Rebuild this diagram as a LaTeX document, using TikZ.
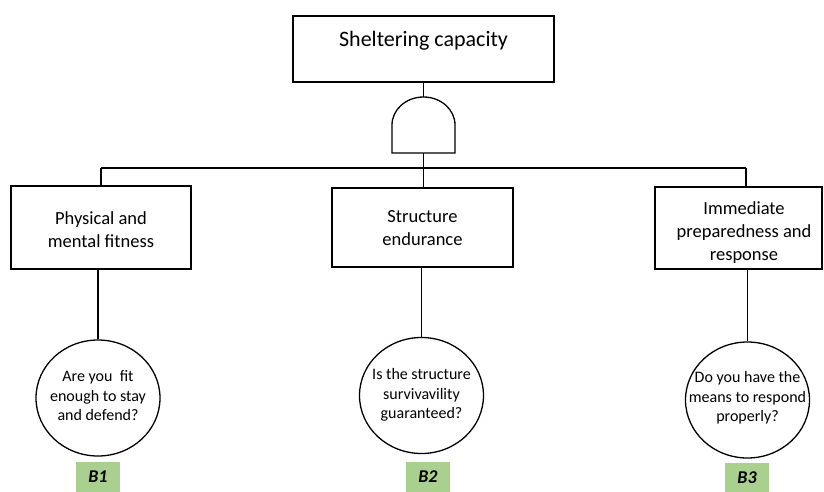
\documentclass[tikz,border=0pt]{standalone}
\usepackage{fontspec}
\setmainfont{Carlito}
\usetikzlibrary{shapes.geometric}
\definecolor{bgreen}{HTML}{A9D08E}
\begin{document}
\begin{tikzpicture}[x=1pt,y=-1pt,
 box/.style={draw, line width=2.4pt, rectangle, inner sep=0},
 conn/.style={line width=1.3pt},
 qcirc/.style={draw, ellipse, line width=1.3pt, inner sep=0, minimum width=124pt, minimum height=116pt},
 boxtext/.style={align=center, font=\fontsize{18.5}{23}\selectfont, inner sep=0},
 qtext/.style={align=center, font=\fontsize{16}{19.5}\selectfont, inner sep=0},
 btag/.style={fill=bgreen, minimum width=44pt, minimum height=30pt, inner sep=0, font=\fontsize{18}{20}\selectfont\bfseries\itshape}]
\useasboundingbox (0,0) rectangle (824,492);
% top event
\node[box, minimum width=261pt, minimum height=66pt] (top) at (423.5,49) {};
\node[inner sep=0, font=\fontsize{22}{26}\selectfont, anchor=base] (toptext) at (423.5,47) {Sheltering capacity};
% AND gate
\draw[conn] (392,153) -- (392,125) arc[start angle=180,end angle=0,x radius=31.5pt,y radius=28pt] -- (455,153) -- cycle;
\coordinate (gtop) at (423.5,97);
\coordinate (gbot) at (423.5,153);
% intermediate boxes
\node[box, minimum width=180pt, minimum height=83pt] (L) at (101,227.5) {};
\node[box, minimum width=181pt, minimum height=79pt] (M) at (422.5,227.5) {};
\node[box, minimum width=167pt, minimum height=82pt] (R) at (738.5,228) {};
\node[boxtext] (Ltext) at (101,229.5) {Physical and\\mental fitness};
\node[boxtext] (Mtext) at (422.5,228) {Structure\\endurance};
\node[boxtext] (Rtext) at (744,233) {Immediate\\preparedness and\\response};
% basic events
\node[qcirc] (C1) at (98,398) {};
\node[qcirc] (C2) at (421.5,395.5) {};
\node[qcirc] (C3) at (747.5,400) {};
\node[qtext] (C1text) at (98,396) {Are you\ \ fit\\enough to stay\\and defend?};
\node[qtext] (C2text) at (421.5,395) {Is the structure\\survivavility\\guaranteed?};
\node[qtext] (C3text) at (747.5,398) {Do you have the\\means to respond\\properly?};
% tags
\node[btag] (B1) at (98,477) {B1};
\node[btag] (B2) at (428,477) {B2};
\node[btag] (B3) at (747,478) {B3};
% connectors
\draw[conn] (top.south) -- (gtop);
\draw[conn] (gbot) -- (gbot |- M.north);
\coordinate (busL) at (101,168);
\coordinate (busR) at (746,168);
\draw[conn] (busL) -- (busR);
\draw[conn] (busL) -- (busL |- L.north);
\draw[conn] (busR) -- (busR |- R.north);
\draw[conn] (C1.north) -- (C1.north |- L.south);
\draw[conn] (C2.north) -- (C2.north |- M.south);
\draw[conn] (C3.north) -- (C3.north |- R.south);
\end{tikzpicture}
\end{document}
